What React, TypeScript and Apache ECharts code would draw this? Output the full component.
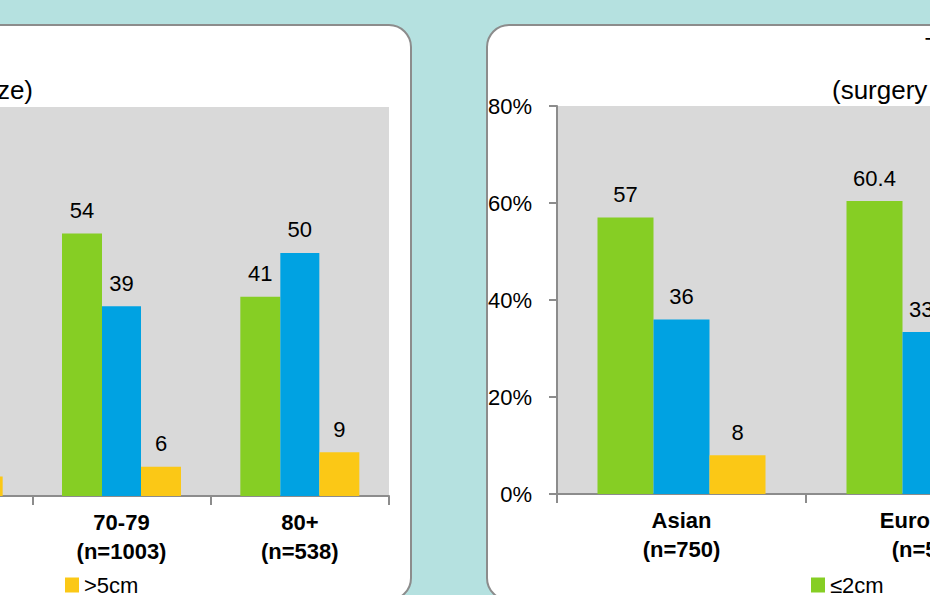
import React, { useEffect, useRef } from "react";
import * as echarts from "echarts";

const FONT = "'Liberation Sans', Arial, sans-serif";

const seriesNames = ["≤2cm", "2-5cm", ">5cm"];
const seriesColors = ["#86ce24", "#00a2e2", "#fbc816"];

// Left panel (by age)
const ageCategories = ["", "70-79\n(n=1003)", "80+\n(n=538)"];
const ageSmall = [null, 54, 41];
const ageMid = [null, 39, 50];
const ageLarge = [4, 6, 9];

// Right panel (by ethnicity)
const ethCategories = ["Asian\n(n=750)", "European\n(n=512)"];
const ethSmall = [57, 60.4];
const ethMid = [36, 33.4];
const ethLarge = [8, 6.2];

const yTicks = { min: 0, max: 80, interval: 20 };

export default function App() {
  const ref = useRef<HTMLDivElement>(null);
  useEffect(() => {
    if (!ref.current) return;
    const chart = echarts.init(ref.current, null, { renderer: "svg" });
    const axisColor = "#8c8c8c";
    const xAxisBase = {
      type: "category",
      axisLine: { lineStyle: { color: axisColor, width: 2 } },
      axisTick: { show: true, length: 9, lineStyle: { color: axisColor, width: 2 } },
      axisLabel: {
        color: "#000",
        fontSize: 22,
        fontWeight: "bold",
        fontFamily: FONT,
        lineHeight: 29,
        margin: 12,
        interval: 0,
      },
    };
    const yAxisBase = {
      type: "value",
      min: yTicks.min,
      max: yTicks.max,
      interval: yTicks.interval,
      splitLine: { show: false },
      axisLine: { show: true, lineStyle: { color: axisColor, width: 2 } },
      axisTick: { show: true, length: 8, lineStyle: { color: axisColor, width: 2 } },
      axisLabel: {
        color: "#000",
        fontSize: 22,
        fontFamily: FONT,
        margin: 25,
        formatter: "{value}%",
      },
    };
    const mkSeries = (data: (number | null)[], idx: number, axis: number, bw: number) => ({
      name: seriesNames[idx],
      type: "bar",
      xAxisIndex: axis,
      yAxisIndex: axis,
      data,
      barWidth: bw,
      barGap: "0%",
      itemStyle: { color: seriesColors[idx] },
      label: {
        show: true,
        position: "top",
        distance: 12,
        color: "#000",
        fontSize: 22,
        fontFamily: FONT,
      },
    });
    const legendBase = {
      orient: "horizontal",
      padding: 0,
      itemWidth: 14,
      itemHeight: 15,
      itemGap: 30,
      icon: "rect",
      top: 574,
      textStyle: { color: "#000", fontSize: 22, fontFamily: FONT },
    };
    chart.setOption({
      animation: false,
      backgroundColor: "#b5e1e0",
      graphic: [
        {
          type: "rect",
          z: -10,
          shape: { x: -400, y: 25, width: 811, height: 575, r: 22 },
          style: { fill: "#fff", stroke: "#8c8c8c", lineWidth: 2 },
        },
        {
          type: "rect",
          z: -10,
          shape: { x: 487, y: 25, width: 800, height: 575, r: 22 },
          style: { fill: "#fff", stroke: "#8c8c8c", lineWidth: 2 },
        },
        {
          type: "text",
          x: 33,
          y: 90,
          style: {
            text: "(by tumor size)",
            align: "right",
            verticalAlign: "middle",
            fontSize: 26,
            fontFamily: FONT,
            fill: "#000",
          },
        },
        {
          type: "text",
          x: 925,
          y: 45,
          style: {
            text: "Tumor size by ethnicity",
            align: "left",
            verticalAlign: "middle",
            fontSize: 22,
            fontFamily: FONT,
            fill: "#000",
          },
        },
        {
          type: "text",
          x: 832,
          y: 90,
          style: {
            text: "(surgery patients)",
            align: "left",
            verticalAlign: "middle",
            fontSize: 26,
            fontFamily: FONT,
            fill: "#000",
          },
        },
      ],
      grid: [
        {
          left: -146,
          width: 535,
          top: 107,
          height: 389,
          show: true,
          backgroundColor: "#d9d9d9",
          borderWidth: 0,
          outerBoundsMode: "none",
        },
        {
          left: 557,
          width: 498,
          top: 106,
          height: 388,
          show: true,
          backgroundColor: "#d9d9d9",
          borderWidth: 0,
          outerBoundsMode: "none",
        },
      ],
      xAxis: [
        { ...xAxisBase, gridIndex: 0, data: ageCategories },
        { ...xAxisBase, gridIndex: 1, data: ethCategories },
      ],
      yAxis: [
        { ...yAxisBase, gridIndex: 0 },
        { ...yAxisBase, gridIndex: 1 },
      ],
      legend: [
        { ...legendBase, left: 65, data: [seriesNames[2]] },
        { ...legendBase, left: 811, data: [seriesNames[0]] },
      ],
      series: [
        mkSeries(ageSmall, 0, 0, 40),
        mkSeries(ageMid, 1, 0, 39),
        mkSeries(ageLarge, 2, 0, 40),
        mkSeries(ethSmall, 0, 1, 56),
        mkSeries(ethMid, 1, 1, 56),
        mkSeries(ethLarge, 2, 1, 56),
      ],
    });
    return () => chart.dispose();
  }, []);
  return (
    <div
      ref={ref}
      style={{ position: "absolute", left: 0, top: 0, width: 930, height: 595 }}
    />
  );
}
